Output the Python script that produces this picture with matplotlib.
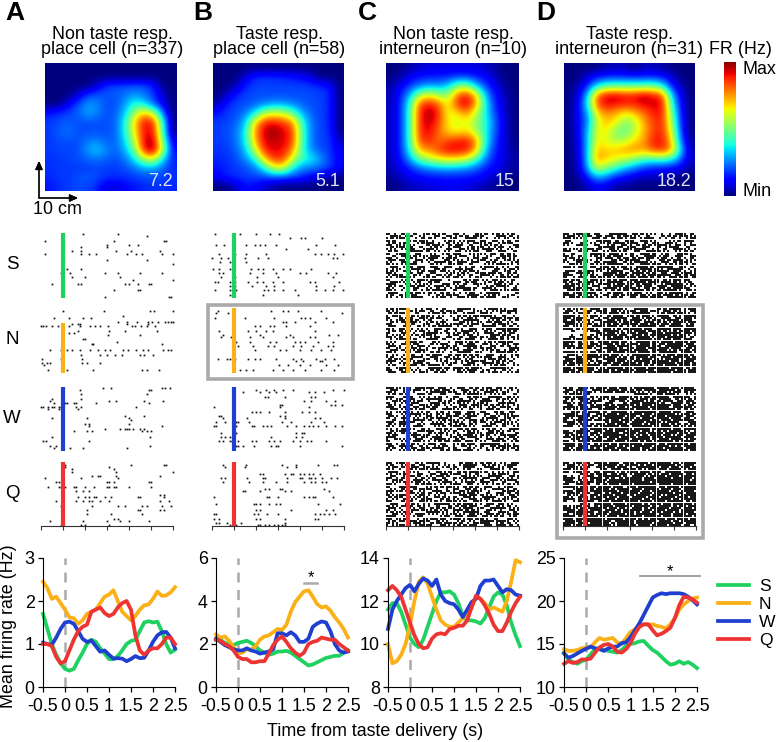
import matplotlib
matplotlib.use("Agg")
import matplotlib.pyplot as plt
import numpy as np
from matplotlib.lines import Line2D
from matplotlib.patches import Rectangle

plt.rcParams['font.family'] = ['Liberation Sans', 'DejaVu Sans']

W, H = 777, 742
fig = plt.figure(figsize=(W / 100, H / 100), dpi=100)


def axPx(x0, y0, x1, y1):
    return fig.add_axes([x0 / W, 1 - y1 / H, (x1 - x0) / W, (y1 - y0) / H])


def figX(x):
    return x / W


def figY(y):
    return 1 - y / H


# firing maps, percent of max, read on a 14x14 grid
mapA = [[0] * 14, [0] * 14,
        [0, 0, 0, 0, 0, 8, 18, 20, 20, 21, 21, 16, 0, 0],
        [0, 0, 0, 8, 19, 21, 21, 21, 24, 28, 24, 18, 8, 0],
        [0, 0, 12, 20, 28, 26, 20, 20, 28, 40, 36, 22, 10, 0],
        [15, 18, 19, 22, 29, 26, 20, 22, 32, 55, 72, 60, 25, 0],
        [18, 20, 22, 20, 20, 20, 20, 22, 38, 68, 92, 88, 40, 0],
        [18, 22, 24, 20, 20, 20, 20, 22, 38, 65, 90, 90, 42, 0],
        [18, 20, 20, 20, 24, 26, 22, 22, 34, 58, 92, 96, 50, 8],
        [18, 19, 19, 20, 28, 33, 26, 22, 30, 48, 90, 99, 58, 12],
        [17, 18, 19, 20, 22, 24, 22, 20, 24, 35, 55, 62, 35, 15],
        [17, 18, 18, 18, 18, 19, 18, 18, 20, 24, 28, 28, 22, 16],
        [16, 18, 18, 20, 22, 20, 18, 17, 17, 18, 20, 20, 19, 17],
        [14, 17, 18, 20, 19, 16, 8, 8, 12, 14, 16, 17, 17, 16]]
mapB = [[0] * 14,
        [0, 0, 0, 8, 16, 17, 17, 16, 14, 12, 8, 0, 0, 0],
        [0, 0, 6, 16, 19, 19, 19, 19, 19, 19, 18, 16, 14, 0],
        [0, 6, 16, 19, 20, 20, 20, 20, 20, 20, 20, 19, 16, 0],
        [5, 16, 19, 20, 22, 25, 28, 28, 25, 22, 20, 19, 16, 0],
        [14, 18, 20, 25, 36, 58, 62, 60, 48, 30, 22, 19, 16, 0],
        [18, 19, 22, 32, 68, 88, 90, 85, 78, 42, 24, 19, 16, 0],
        [18, 20, 24, 38, 75, 94, 99, 92, 85, 45, 24, 19, 17, 0],
        [18, 19, 24, 36, 72, 92, 94, 92, 85, 45, 24, 19, 18, 6],
        [17, 18, 22, 32, 60, 88, 92, 90, 78, 42, 26, 20, 18, 9],
        [16, 17, 20, 26, 38, 70, 86, 85, 60, 42, 38, 28, 18, 11],
        [14, 16, 18, 20, 24, 36, 60, 62, 36, 26, 24, 22, 18, 11],
        [11, 16, 17, 18, 19, 19, 19, 18, 18, 16, 11, 7, 3, 0],
        [0, 0, 6, 14, 11, 6, 3, 0, 0, 0, 0, 0, 0, 0]]
mapC = [[0, 0, 3, 6, 8, 8, 8, 8, 8, 8, 6, 3, 0, 0],
        [0, 4, 10, 14, 15, 15, 16, 18, 18, 15, 12, 6, 0, 0],
        [3, 10, 18, 24, 28, 28, 32, 50, 52, 32, 18, 10, 3, 0],
        [5, 14, 30, 55, 65, 55, 52, 80, 90, 70, 30, 14, 5, 0],
        [5, 15, 40, 82, 90, 82, 62, 86, 95, 74, 36, 16, 6, 0],
        [6, 15, 42, 86, 98, 88, 62, 66, 76, 58, 36, 18, 7, 0],
        [6, 15, 42, 86, 95, 84, 66, 60, 64, 52, 40, 22, 8, 0],
        [6, 15, 42, 86, 92, 80, 68, 64, 68, 56, 38, 20, 8, 0],
        [6, 15, 42, 82, 88, 78, 84, 88, 90, 76, 38, 18, 8, 0],
        [6, 15, 38, 72, 76, 84, 92, 92, 90, 72, 32, 15, 8, 2],
        [5, 13, 28, 48, 56, 64, 66, 66, 60, 44, 24, 14, 8, 3],
        [4, 10, 15, 22, 26, 28, 30, 28, 26, 22, 15, 12, 6, 3],
        [2, 6, 10, 12, 13, 14, 14, 14, 14, 13, 10, 6, 3, 0],
        [0, 2, 5, 6, 8, 8, 10, 10, 8, 6, 3, 2, 0, 0]]
mapD = [[0, 0, 0, 0, 3, 5, 5, 0, 5, 5, 3, 0, 0, 0],
        [0, 0, 8, 14, 15, 16, 15, 14, 15, 15, 14, 8, 0, 0],
        [0, 5, 15, 34, 44, 46, 46, 46, 46, 48, 38, 15, 5, 0],
        [0, 8, 30, 80, 92, 94, 90, 90, 96, 90, 86, 32, 10, 0],
        [0, 10, 36, 82, 92, 90, 88, 88, 92, 92, 92, 42, 12, 0],
        [0, 12, 26, 66, 76, 72, 64, 70, 78, 88, 90, 50, 14, 0],
        [0, 12, 24, 60, 70, 66, 50, 56, 72, 84, 88, 56, 16, 0],
        [0, 10, 30, 64, 66, 50, 46, 58, 70, 84, 88, 62, 18, 0],
        [0, 8, 30, 66, 62, 56, 58, 66, 74, 88, 90, 70, 22, 2],
        [0, 8, 30, 72, 68, 70, 74, 78, 74, 84, 88, 76, 32, 4],
        [0, 6, 30, 76, 70, 64, 60, 52, 44, 42, 44, 38, 22, 6],
        [0, 5, 28, 60, 50, 42, 30, 25, 18, 15, 13, 12, 10, 3],
        [0, 3, 14, 28, 25, 14, 12, 8, 5, 5, 5, 3, 0, 0],
        [0, 0, 5, 10, 8, 3, 2, 0, 0, 0, 0, 0, 0, 0]]

# sparse rasters: (trial, spike times)
rasterAS = [(0, [0.45, 1.25]), (1, [1.9]), (3, [-0.4, 1.15, 2.3, 2.35]), (5, [1.0, 1.5, 1.7]), (6, [0.4, 1.0]),
            (8, [0.2, 0.4, 1.2, 1.55, 2.2]), (9, [-0.4, 0.4, 0.6, 0.75, 1.45, 1.65, 1.8, 2.25, 2.5]), (12, [1.0, 1.9]),
            (14, [2.5]), (16, [0.1, 0.4]), (18, [-0.05, 0.15, 0.95, 1.25, 1.75, 2.25]), (20, [0.2, 0.5, 1.3]),
            (21, [1.6, 2.5]), (23, [-0.25, 0.35, 0.4, 1.4, 1.5, 1.7, 1.95, 2.0]), (26, [1.15, 1.7, 1.75]),
            (29, [0.95, 2.4, 2.45])]
rasterAN = [(1, [0.0, 0.94, 1.98, 2.07, 2.5]), (3, [1.36]), (4, [-0.2, 0.14, 0.45, 0.64]),
            (6, [1.26, 1.45, 1.69, 1.94, 2.02, 2.17, 2.32, 2.39, 2.45, 2.5]), (7, [0.2, 0.33, 0.39, 1.45, 1.94]),
            (8, [-0.5, -0.45, -0.39, -0.26, -0.11, 0.14, 0.39, 0.61, 0.73, 0.84, 1.03, 1.56, 1.63, 1.78, 1.9, 2.1]),
            (10, [0.33, 1.05, 1.4, 2.13]), (11, [0.14, 0.26]), (12, [1.03, 1.75]), (14, [0.45, 0.5]), (15, [1.23]),
            (16, [0.65, 0.69, 2.26]),
            (19, [-0.3, -0.05, 0.08, 0.2, 0.39, 0.61, 0.8, 0.95, 1.06, 1.36, 1.48, 1.67, 1.82, 1.94, 2.27, 2.38, 2.45]),
            (21, [0.42, 0.84, 0.99, 1.18, 1.33, 1.74, 1.85, 2.05]), (23, [-0.48, -0.05, 0.44]),
            (25, [-0.48, -0.37, -0.29, 0.44, 0.55, 0.84]), (26, [-0.44]), (28, [-0.35, 0.08, 0.69, 1.8, 1.92, 2.18])]
rasterAW = [(0, [0.92, 1.08, 2.24, 2.32, 2.43]), (1, [0.39, 1.95, 2.0]), (3, [0.4, 1.9]), (5, [-0.25, 0.4]),
            (6, [-0.3, 1.05, 1.2, 1.85, 2.28]), (7, [-0.2, 0.05, 0.1, 0.25, 0.3, 0.75, 1.95]),
            (9, [-0.5, -0.45, -0.35, -0.25, -0.2, -0.1, -0.05, 0.3, 0.4, 1.65]), (10, [-0.35, -0.1, 0.35]),
            (13, [1.4, 1.85]), (14, [-0.25, 0.55, 1.5]), (15, [1.55]), (17, [0.5, 0.6, 1.5]), (18, [0.6, 2.25]),
            (19, [0.95, 1.3, 1.4, 1.45, 1.5, 1.6, 1.75, 1.85]), (20, [0.25, 0.55, 0.65, 1.8, 1.9, 2.0]),
            (23, [-0.25, 1.98]), (25, [-0.45, -0.38, 0.6]), (27, [-0.3, -0.15, 1.98]),
            (28, [-0.2, 0.0, 0.15, 0.45, 1.45])]
rasterAQ = [(1, [0.05, 1.55, 2.3, 2.35]), (2, [0.05, 1.05]), (3, [0.2, 1.15]), (4, [0.2, 1.2, 2.5]),
            (6, [0.65, 0.8, 0.85, 1.2, 2.2]), (7, [-0.4, 0.4, 1.25]), (9, [-0.15, -0.1, 1.0, 1.05, 1.15, 1.95, 2.0]),
            (11, [-0.35, -0.1, -0.05, 0.05, 0.25, 0.3, 0.5, 0.7, 1.0, 1.05, 1.15, 1.2, 1.5, 2.0]), (13, [0.3, 0.45, 0.6]),
            (15, [2.2, 2.3]), (16, [0.35, 0.5, 0.6, 0.7, 0.75, 0.95, 1.1, 1.7, 1.75, 2.3]),
            (18, [-0.15, 0.3, 0.45, 0.6, 0.65, 0.85, 1.05, 2.2, 2.4]), (20, [-0.05, 0.65, 1.25, 1.4, 1.8, 1.9, 2.25, 2.45]),
            (22, [0.55, 1.7, 1.75, 2.2, 2.3]), (24, [0.55, 1.1, 1.8]), (26, [1.15, 1.25]),
            (27, [-0.3, 0.0, 0.45, 1.0, 1.3, 1.5, 1.95]), (29, [-0.05, 0.4, 0.5, 1.05])]
rasterBS = [(0, [-0.44, 0.13, 0.49, 0.82, 1.02]), (2, [1.27, 1.53, 1.61, 2.0]),
            (5, [-0.4, -0.23, 0.0, 0.28, 0.47, 0.58, 0.7, 0.96, 1.87, 2.3]), (7, [1.19, 1.68]),
            (9, [-0.33, 0.02, 0.27, 0.73, 1.83, 1.98, 2.13, 2.28, 2.48]),
            (11, [-0.5, -0.29, -0.14, 0.24, 0.55, 0.77, 2.25, 2.33]), (13, [-0.31, -0.1, 0.27]),
            (16, [-0.48, -0.33, -0.1, 0.39, 0.55, 0.66, 0.89, 1.11, 1.27, 1.76]),
            (18, [-0.33, -0.25, 0.0, 0.36, 0.66, 0.96, 1.49, 1.64, 2.13, 2.32]), (20, [-0.29, 0.02, 0.52, 1.0, 2.25]),
            (22, [-0.44, -0.37, -0.1, 0.02, 0.32, 0.52, 0.66, 0.89, 1.11, 1.72, 1.83, 2.38]),
            (24, [-0.1, 0.02, 0.4, 0.73, 0.92, 1.87, 2.28]),
            (26, [-0.44, -0.1, 0.05, 0.69, 0.77, 0.92, 1.11, 1.38, 1.87, 2.06, 2.25, 2.48]), (28, [-0.1, 0.66, 1.46])]
rasterBN = [(1, [-0.36, 0.83, 1.11, 1.23, 1.45, 1.98]), (2, [-0.4, -0.14, 2.46]), (4, [-0.44, 0.24, 0.92, 1.53, 1.61, 1.72, 2.1]),
            (6, [1.11, 1.19, 1.38, 1.83, 2.25]), (8, [0.47, 0.58, 0.81, 0.92, 1.19, 1.72]),
            (10, [-0.33, 0.32, 0.51, 0.73, 0.89, 1.83]), (12, [-0.25, 0.58, 1.27, 2.17, 2.36]),
            (13, [-0.29, -0.06, 0.36, 0.66, 1.19, 1.34, 1.72, 1.83]), (15, [0.05, 0.36, 0.81, 0.96, 1.38, 1.49, 1.61, 1.91, 2.25]),
            (17, [0.09, 0.43, 0.77, 0.92, 1.34, 1.53, 1.8, 2.13, 2.25]), (19, [0.47, 1.05, 1.19, 1.49, 1.76, 1.98, 2.21]),
            (23, [-0.36, -0.17, -0.1, 0.02, 0.32, 0.47, 0.58, 0.96, 1.34, 1.53, 1.87, 2.06, 2.28]), (24, [1.42, 1.57, 1.95, 2.0]),
            (26, [1.02, 1.23, 1.49, 1.72, 2.1, 2.36]), (28, [0.13, 0.28, 0.43, 0.89, 1.11, 1.34, 1.61, 1.98, 2.28])]
rasterBW = [(1, [0.5, 0.73, 0.92, 1.11, 1.34, 2.25, 2.5]), (2, [0.2, 0.6, 0.8, 0.95, 1.7, 1.85, 2.05]), (4, [0.7, 0.78, 1.15, 1.75, 1.85]),
            (6, [1.6, 1.75, 2.1, 2.3]), (8, [1.05, 1.1, 2.2, 2.3, 2.45]), (9, [-0.45, 1.05, 1.7]),
            (11, [0.4, 0.5, 0.6, 0.8, 1.15, 1.55, 1.7, 1.85]), (13, [-0.35, -0.3, 1.05, 1.15]), (14, [-0.25, 0.3, 1.15, 1.85, 1.95]),
            (16, [-0.4, -0.2, 0.05, 0.1, 0.35, 1.1, 1.3, 1.75, 2.05]),
            (18, [-0.45, -0.4, 0.05, 0.4, 0.45, 0.65, 0.75, 0.85, 1.2, 1.4, 1.6, 1.7, 1.8, 1.9, 2.1, 2.3, 2.45]),
            (21, [-0.3, 0.05, 1.4, 1.55, 1.6]), (23, [-0.3, -0.2, -0.1, 0.0, 0.85, 1.4, 1.55]),
            (25, [-0.35, -0.25, -0.1, -0.05, 0.1, 0.4, 0.5, 0.8, 0.9, 1.05, 1.35, 1.5, 1.65, 1.75, 2.1]),
            (27, [0.05, 0.1, 0.2, 0.45, 0.85, 0.95, 1.0, 1.5, 2.45])]
rasterBQ = [(1, [-0.25, 0.28, 1.1, 1.4, 1.9, 2.28, 2.33]), (2, [-0.2, 0.25, 1.2, 1.4]),
            (5, [0.6, 0.65, 1.15, 1.3, 1.35, 1.5, 1.6, 1.7, 1.8, 1.95]),
            (7, [-0.3, -0.2, 0.3, 0.65, 0.7, 1.2, 1.5, 1.55, 1.7, 1.75, 1.85, 2.0, 2.2, 2.35]),
            (9, [-0.25, 0.35, 0.65, 0.95, 1.2, 1.6, 1.75, 1.85, 2.0, 2.1]), (12, [0.7, 0.8, 1.05, 1.1, 2.05]),
            (13, [0.2, 0.25, 0.6, 1.15, 1.3, 2.15]), (16, [-0.45, 0.75, 0.8, 1.0, 1.6, 1.7, 1.8, 1.85, 2.25]),
            (19, [-0.4, 0.45, 0.5, 0.6, 0.8, 0.95, 1.05, 1.9, 2.4]), (22, [0.5, 0.6, 1.3, 2.1, 2.25]),
            (24, [-0.45, -0.4, 0.45, 0.55, 0.75, 1.0, 1.85, 1.95, 2.05, 2.15, 2.3]), (26, [-0.45, -0.35, 0.5, 0.6, 1.15, 1.85, 1.9]),
            (28, [-0.4, -0.35, -0.15, 0.15, 1.15]), (29, [-0.1, 0.05, 0.55, 0.6, 0.7, 0.8, 0.9, 1.0, 1.1, 1.15])]

# dense rasters: one hex row per trial, 64 time bins from -0.5 to 2.5 s
rasterCS = """c9a6 3b58 e41d 96ac
3e58 a1c7 5b3e 07d9
b7a2 6d19 c3f4 8a65
d836 f20b 95e7 1cb3
5ac1 7e46 a93d 62f8
e694 1bd3 78c5 ad07
37b8 c5a2 f16e 4b93
a95c 3e87 1d6b f528
6c1f d94a 72b8 e3c6
c7e3 8516 f0ad 39b4
19d6 b7c3 5e28 a1f6
e45a 2f97 c13b 86d4
7b83 d60e a94f 2c75
a1c6 49fb 3e78 d90b
d57e 06a3 b8c1 57e9
3cb9 e78f 1265 f4a3
962f a1d8 7bc3 0e5d
b4d1 6f3a 96e8 1c72
e839 c705 ad1f 7b36
5f26 98eb 34c7 d1a9
a7d4 3b16 e89c 25f7
c169 f7e2 06ba 9d4c
3ea5 8dc0 f371 6ba8
f872 b41e a63d 0f59
6b3d e9f6 5c08 b7e2
d0a7 14c9 7fb3 e846
e926 5bf8 c7a1 3d6f
7c5b ad36 92e4 fe03
b36e 08d7 e1f9 5a2c
a54f c2b9 3d76 f8e1""".split("\n")
rasterCN = """b7e2 5c98 3fa1 7d46
d41a e637 b82c 95fe
6f83 0bd9 c5e7 a132
9e2d 7a51 36bf e8c4
c358 f6e0 a9d1 3f7b
a79b 2c14 e7f8 56d3
35fe 96b8 1d4c ef28
e06c 38d5 f97a 1be6
78d1 ab7f 26c3 f8d9
d3a9 51e6 c8f2 e7ff
5b72 e98c 4fd1 a8f6
c1e4 3fa6 b729 f35c
96ab 7d02 e5c8 3ef1
eb30 a5c7 18f6 b9ad
27d6 1f98 b3e4 7da5
a85e c342 7ad9 6bf8
d1f7 06bc 59e3 a4e7
7a29 e816 c7f4 39b2
c64e 937d a1b6 e81f
3db5 f048 e7c2 b65d
e873 a6d1 3f9c 27fa
94ac 5be3 76d8 f14b
b12f c78e a56d e3c9
6ed8 39a5 f2c1 7b64
f935 e0ac 4b7f 16d8
a2c7 d815 c9e3 f6a4
58be 6fd3 07a9 2dc5
c7f1 0fee fb7c 3fe8
e36a 96d4 b5f2 c8d1
79c4 f1b8 3ae6 5d2b""".split("\n")
rasterCW = """f6b3 fe79 3cda e75a
3c97 a5de 8f36 bd29
e8a4 17fb c6a9 f4e1
5b61 ec38 75fd 2ac6
f0d8 a964 e1bc 7f35
a73c 5fe1 98d3 c6ea
1ed5 c86b 3fa7 e492
c94f 07da b52e 83fc
6a38 f5c9 1e7d b6a5
f2e7 3b84 d6ac 59f1
3d5a e71f a8c4 f62b
a6c9 58b2 f1e7 0d9c
e17f b4d6 73a9 c5e8
74b2 9ca7 e5f1 3a6f
c9e5 36fd 1b82 fc74
18a7 ec5b a4f6 95d1
f3dc 42a9 e8b7 2f6a
6be1 a7f3 5cd0 b8e9
d287 c159 f6a3 e4c5
a5f4 68ed 3b72 d91f
37c1 fe2a c5a8 76b4
e9b6 0d74 a1ec f583
5c2f b8a5 37d6 c9fe
f806 73e1 d9f4 a25d
8eb3 c5fa 6c18 f7a6
c147 a96e f3d5 1ecb
e5ad 2f38 ade7 fe64
73f8 d15c 8e96 3bf7
d96e 7bf2 c1a4 96ed
a2b5 e436 f7c8 d1a3""".split("\n")
rasterCQ = """e7a3 5fc8 1bd6 e94f
b16c e24a 97f3 5a7e
5d8f 3a96 c7e1 f2b8
d23a f7c1 a58c 3e96
7c95 08eb 36fd 92a7
a6e1 c73d f298 5be4
38bd 94f6 0eac 7f1d
e5a2 6b18 d7f3 c6a9
9f07 d3ec 8a56 3d7e
16cb a85f 4be7 d0c3
e843 7d29 f1ca 96b5
c3fe 15b7 a6d9 e278
29a6 fc84 e3b5 1fa6
f758 a3e6 9d7c 40fd
a01d 6cb9 f5e8 c7b3
d7c2 e948 1ef6 a59d
6f35 b1da c7a3 f86e
94ea 7c36 a8f5 d2e9
e1b8 f5a7 d63c 9f47
3c6d 29fe b7d4 f3a8
d5f9 a8c3 6ef1 c6b2
7a14 e6db 97ce 3fd5
c92f 75ac fb68 e91d
b6e8 1fd4 a7f9 c3e6
1d73 ea95 d4ec f6b7
f8a5 c02e 79f3 ad96
e6c1 37b9 f5de 8c3a
5b9e f8d4 2ca7 f7e5
d417 a6ef d93f c5b2
97b2 fc3a b6f1 e7d9""".split("\n")
rasterDS = """e7f9 c3fe 76a9 13e6
bd5c ef37 a8c1 b6f5
f6a3 d9ba e5f2 4c97
7010 fe63 c7a8 15be
e8c5 36fd f19c 7a24
a3f1 c58e 9b6f d3a7
0000 7fb9 e3c6 5f18
d69e e3a7 bf14 c7e9
f1b3 95d6 38fe a2b6
8c07 f3ea c7d9 61f4
e9a5 b6f8 d1fa e3c7
5d60 ef37 6ef5 c9a6
c7f4 a1db f8c3 b7d5
a391 dfc6 bfa9 e6f4
1e86 b7f9 c7de 5ad3
f5c7 3dae 9fb7 f8e6
0000 f6c7 b7ed 3fc9
7d9e a5f8 db6f e7a5
e3fa 1fdb 7ed9 cf7d
f8b6 9f7e db7f f3b7
c5e7 76bd efb6 9ef3
ef37 b6de f7ec d7b8
d9be a7f9 bf7d f6ac
6f7a 7ebd dbe9 7fd6
fd53 c6fb 9de7 cfe5
f7bc 5fd7 e9db b7f8
3f76 e9b7 7ed6 fe9d
e7bf 26f9 bca7 5fd3
fdb5 9ced f75e fb76
9f7e a5d8 e7bf 3fef""".split("\n")
rasterDN = """b6e7 d9fa 3f86 dfaf
7a3c f9d5 e7bc f6a7
e5f9 3bed 7fc5 bde9
fd37 a6f9 dbd7 e6bf
f7e6 5dfe 7ae9 f3bd
cfb9 e7b6 fd5e bf7c
fd6a 3fd7 b9f6 d7ef
7e9d b6ef f7bd ef96
e6b3 f7d9 6ffb 9fde
fb7e 9eb7 fde7 f7bf
0c37 dfe9 bf7e d6fb
0000 f7ad ef9f 7fbd
08e6 bfde 7dbf f6e9
1c7d 96fb efd7 bfe6
f7de d7f9 bfee f7bc
fdb6 7dee 9fdd fbf7
e9f7 bf6d f7db bfde
fdbe e7bf 9fde 7fef
b7fd 3fd9 df7b ef9d
0000 e7df bf9f d6fb
fef7 76fd efdb fe7d
3e7f bde9 7fde bdf6
e3bf f7d6 dfb9 f7fb
7fdc 9fbe dbed 7f5f
fbf6 e7bd bfdf ef7e
dfe9 7ef7 eddf fdfb
bd7f d9ef fdb7 7efb
f7de b7fb bf7f efdb
fdfe 7dbf dff7 fdef
ef7d fdf7 bf7f f7ef""".split("\n")
rasterDW = """d9f6 fbde bff7 ef7e
7be3 f7ee ddfb fdbf
e69d 3f7d ea5f d7b6
5fb8 0000 3fa7 7d15
f7e6 bd9f b5df e7f9
6dfa 75fe d7bb f36d
c8f7 e39d 7eb6 f9de
f5bd 0f06 fbfd 8fdb
39e6 fdbf dbef f7ae
fef7 efdd 7fbf e7fd
b6dc 7fbf dfdf fdb6
0f6f d9fe bffb f79e
fe58 f7df fdef fd7b
7fdb bffd e7df bfde
e9f6 6ffb dbf7 efb9
c7fd fdef bfdd f7fe
fdb0 0dfb 7efe bf0f
3ef6 f7be fdbd edb7
f97d bfef 7fed f76d
00d7 fb7f bfdf f7bf
e7f9 ef7d fbd6 dfe9
fbf7 bfe7 ef7f 7ef7
6eb6 dffd dbbe f5df
f7d9 7bef efdf 7fbe
0f7e e7bf 7fdb efd7
e5fb ff7d f6ef fb7e
fdb9 bddf fdfb bff7
7dd7 f7db bfef edbf
ebf6 dfbe fbdf 7fdf
f79f fdef fb7f dff7""".split("\n")
rasterDQ = """e7b9 fbe7 dfbf f77f
bd6e 7fdb f6ef fdbe
3e98 f7be 9ffd ef7b
f6d0 39f7 ed7b dfaf
e7b9 dfad f7de 7fbf
00f6 f9de bf6d efdd
c93e 7ff6 7ebf bf7f
fd67 ed9b fdf7 f7fd
f9b6 fbff fdff fffb
7ede f7ff ffdf ffff
e3f8 dbef bffb f7ef
fef7 7ef9 effb bf7f
07d6 fdbf 7dfd f7bf
fbf7 ffdf fbdf ef7e
bf59 edf7 f7ef fbdf
36e7 bf7e dfde bf7f
e9d6 fbdf 7f7d fdf7
fdb7 efbf fddf f77f
c5fe 7dfb f7ef bfdb
00e9 fefd fdbe f7fd
d7b9 bf7f bfdb f6ef
f6ef fbdd 7dbf efbd
fdf7 efb7 fdef bf7f
3fde 7df7 dbde fb7e
e7f6 fbfd dffb f7ef
fdbf b7df fdfe f7fd
fbdf f7fb edbf bdf7
7fbf fe7f dffb f77f
fdf7 fdbf dfef fbdf
f7bf febf efdf dfb9""".split("\n")

# mean firing rate, one value each 0.1 s
timeAxis = [-0.5, -0.4, -0.3, -0.2, -0.1, 0.0, 0.1, 0.2, 0.3, 0.4, 0.5, 0.6, 0.7, 0.8, 0.9, 1.0,
            1.1, 1.2, 1.3, 1.4, 1.5, 1.6, 1.7, 1.8, 1.9, 2.0, 2.1, 2.2, 2.3, 2.4, 2.5]
rateAS = [1.7, 1.35, 1.0, 0.75, 0.55, 0.42, 0.38, 0.42, 0.62, 0.8, 1.0, 1.1, 1.05, 0.9, 0.78, 0.65,
          0.65, 0.72, 0.85, 1.0, 1.07, 1.1, 1.3, 1.5, 1.53, 1.5, 1.52, 1.3, 1.0, 0.8, 0.87]
rateAN = [2.45, 2.3, 2.05, 2.1, 1.95, 1.8, 1.62, 1.6, 1.47, 1.55, 1.7, 1.75, 1.8, 1.95, 2.1, 2.15,
          2.25, 2.0, 1.75, 1.65, 1.55, 1.65, 1.8, 1.9, 1.92, 2.05, 2.22, 2.12, 2.13, 2.2, 2.32]
rateAW = [1.03, 1.0, 0.98, 1.15, 1.35, 1.5, 1.52, 1.47, 1.3, 1.12, 1.05, 1.08, 0.95, 0.82, 0.85, 0.75,
          0.66, 0.67, 0.66, 0.6, 0.65, 0.72, 0.67, 0.68, 0.85, 1.05, 1.2, 1.27, 1.28, 1.15, 0.9]
rateAQ = [1.0, 1.0, 0.95, 0.7, 0.55, 0.6, 0.85, 1.1, 1.3, 1.4, 1.45, 1.75, 1.8, 1.85, 1.72, 1.65,
          1.7, 1.85, 1.95, 2.0, 1.8, 1.2, 0.85, 0.75, 0.85, 0.9, 0.9, 1.0, 1.15, 1.15, 1.0]
rateBS = [2.2, 2.2, 2.05, 2.0, 1.95, 2.05, 2.1, 2.15, 2.05, 1.9, 1.7, 1.6, 1.5, 1.55, 1.65, 1.65,
          1.68, 1.6, 1.45, 1.3, 1.15, 1.0, 1.05, 1.15, 1.25, 1.35, 1.4, 1.45, 1.45, 1.6, 1.7]
rateBN = [2.45, 2.3, 2.35, 2.15, 1.85, 1.55, 1.6, 1.75, 1.75, 1.9, 2.2, 2.35, 2.4, 2.55, 2.7, 2.65,
          2.9, 3.5, 3.95, 4.2, 4.45, 4.5, 4.2, 3.85, 3.7, 3.75, 3.55, 3.25, 3.0, 2.7, 2.3]
rateBW = [2.25, 2.1, 1.95, 1.85, 1.75, 1.7, 1.7, 1.8, 1.7, 1.65, 1.55, 1.6, 1.65, 1.75, 2.5, 2.5,
          2.4, 2.55, 2.4, 2.1, 2.1, 2.25, 2.8, 2.95, 3.05, 3.0, 2.6, 2.0, 1.7, 1.6, 1.65]
rateBQ = [2.2, 2.15, 2.0, 1.9, 1.7, 1.4, 1.3, 1.3, 1.15, 1.15, 1.2, 1.2, 1.55, 1.95, 2.2, 2.35,
          2.1, 1.8, 1.6, 1.45, 1.6, 2.0, 2.1, 2.15, 2.3, 2.25, 2.2, 2.2, 2.0, 1.85, 1.7]
rateCS = [11.6, 11.9, 11.9, 11.5, 10.9, 10.3, 10.0, 9.85, 10.2, 10.8, 11.4, 12.0, 12.4, 12.4, 12.45, 12.3,
          11.9, 11.3, 11.1, 11.1, 11.05, 10.95, 11.2, 11.7, 12.2, 12.4, 12.3, 11.8, 11.0, 10.4, 9.9]
rateCN = [10.0, 9.1, 9.2, 9.5, 10.0, 10.9, 12.0, 12.9, 13.1, 12.8, 12.2, 11.6, 11.1, 10.9, 10.8, 10.8,
          11.0, 11.2, 11.3, 11.7, 12.2, 12.1, 11.9, 11.6, 11.7, 11.6, 11.5, 12.0, 12.9, 13.9, 13.8]
rateCW = [10.7, 11.6, 12.0, 12.3, 12.6, 12.75, 12.45, 12.8, 13.05, 12.95, 12.7, 13.0, 12.3, 12.0, 11.9, 11.85,
          11.6, 11.25, 11.6, 11.95, 12.1, 12.7, 12.95, 12.95, 13.0, 12.7, 12.4, 12.55, 12.5, 12.3, 12.25]
rateCQ = [12.5, 12.7, 12.5, 12.2, 11.6, 11.0, 10.4, 10.0, 9.8, 9.85, 10.25, 10.45, 10.5, 10.45, 10.7, 10.75,
          10.85, 10.85, 11.1, 11.7, 12.25, 12.1, 11.8, 11.4, 10.9, 10.6, 10.6, 11.0, 11.5, 11.9, 12.2]
rateDS = [14.0, 13.2, 12.9, 12.7, 13.0, 13.2, 13.8, 14.4, 14.5, 14.3, 14.2, 14.1, 14.0, 14.3, 14.8, 15.0,
          15.1, 15.3, 15.35, 14.8, 14.3, 14.0, 13.5, 13.0, 12.6, 12.7, 13.0, 12.7, 12.9, 12.6, 12.2]
rateDN = [14.4, 14.2, 14.2, 14.3, 14.5, 14.6, 14.6, 15.2, 15.7, 15.5, 15.6, 15.7, 15.2, 15.0, 15.7, 16.4,
          16.7, 17.0, 17.3, 17.2, 17.3, 17.1, 17.0, 16.8, 17.3, 18.0, 19.0, 19.6, 20.0, 20.3, 20.4]
rateDW = [13.9, 13.4, 13.6, 13.9, 14.2, 14.45, 14.7, 14.5, 14.4, 14.2, 14.5, 14.7, 14.7, 15.1, 15.2, 15.8,
          16.6, 17.4, 18.4, 19.4, 20.4, 20.7, 20.9, 20.8, 20.9, 20.9, 20.9, 20.8, 20.5, 20.1, 19.6]
rateDQ = [12.7, 13.0, 12.8, 12.9, 13.2, 13.2, 13.3, 14.0, 14.6, 14.9, 15.0, 14.7, 14.1, 14.0, 14.4, 15.1,
          16.2, 17.0, 17.3, 17.3, 16.6, 16.0, 16.2, 16.5, 16.9, 18.0, 19.5, 20.5, 20.4, 20.2, 19.8]

tastes = ['S', 'N', 'W', 'Q']
tasteColors = ['#1fd161', '#fbb017', '#1f3fd0', '#ee3333']
xTicks = [-0.5, 0, 0.5, 1, 1.5, 2, 2.5]
xTickLabels = ['-0.5', '0', '0.5', '1', '1.5', '2', '2.5']

titles = ['Non taste resp.\nplace cell (n=337)', 'Taste resp.\nplace cell (n=58)',
          'Non taste resp.\ninterneuron (n=10)', 'Taste resp.\ninterneuron (n=31)']
panelLetters = ['A', 'B', 'C', 'D']
peakLabels = ['7.2', '5.1', '15', '18.2']
fiMaps = [mapA, mapB, mapC, mapD]
rasters = [[rasterAS, rasterAN, rasterAW, rasterAQ], [rasterBS, rasterBN, rasterBW, rasterBQ],
           [rasterCS, rasterCN, rasterCW, rasterCQ], [rasterDS, rasterDN, rasterDW, rasterDQ]]
rates = [[rateAS, rateAN, rateAW, rateAQ], [rateBS, rateBN, rateBW, rateBQ],
         [rateCS, rateCN, rateCW, rateCQ], [rateDS, rateDN, rateDW, rateDQ]]
yLims = [(0, 3), (0, 6), (8, 14), (10, 25)]
yTicks = [[0, 1, 2, 3], [0, 2, 4, 6], [8, 10, 12, 14], [10, 15, 20, 25]]

# layout in pixels
mapX = [(45, 177), (213, 344), (386, 518), (564, 695)]
rasterX = [(41, 173), (212, 344), (386, 519), (563, 696)]
lineX = [(43, 175), (216, 348), (388, 520), (564, 697)]
rasterY = [(233, 298), (308, 373), (387, 451), (462, 526)]
letterX = [5, 193, 358, 536]
titleX = [112, 279, 453, 629]
textSize = 12.9

for i in range(4):
    fig.text(figX(letterX[i]), figY(13), panelLetters[i], fontsize=19, fontweight='bold', ha='left', va='center')
    fig.text(figX(titleX[i]), figY(42), titles[i], fontsize=textSize, ha='center', va='center', linespacing=0.92)

    ax = axPx(mapX[i][0], 63, mapX[i][1], 191)
    ax.imshow(np.array(fiMaps[i]) / 100, cmap='jet', vmin=0, vmax=1, aspect='auto', interpolation='bicubic')
    ax.axis('off')
    ax.text(0.97, 0.01, peakLabels[i], transform=ax.transAxes, color='#dde4f5', fontsize=textSize, ha='right', va='bottom')

    for j in range(4):
        ax = axPx(rasterX[i][0], rasterY[j][0], rasterX[i][1], rasterY[j][1])
        ax.set_xlim(-0.5, 2.5)
        ax.set_ylim(30, 0)
        xs, ys = [], []
        if i < 2:
            for trial, times in rasters[i][j]:
                xs += times
                ys += [trial + 0.5] * len(times)
            ax.plot(xs, ys, ls='none', marker='s', ms=1.25, mew=0, color='#111111', clip_on=False)
        else:
            for trial, row in enumerate(rasters[i][j]):
                bits = bin(int(row.replace(' ', ''), 16))[2:].zfill(64)
                for k, b in enumerate(bits):
                    if b == '1':
                        xs.append(-0.5 + 3 * (k + 0.5) / 64)
                        ys.append(trial + 0.5)
            ax.plot(xs, ys, ls='none', marker='_', ms=1.7, mew=1.3, color='k', clip_on=False, snap=False)
        eventTop = 7 if (i == 0 and j == 1) else 0
        ax.plot([0, 0], [eventTop, 30], color=tasteColors[j], lw=3.0, solid_capstyle='butt', zorder=5)
        ax.patch.set_alpha(0)
        for s in ['top', 'left', 'right', 'bottom']:
            ax.spines[s].set_visible(False)
        ax.set_yticks([])
        if j == 3:
            ax.spines['bottom'].set_visible(True)
            ax.spines['bottom'].set_color('#333333')
            ax.set_xticks(xTicks)
            ax.set_xticklabels([])
            ax.tick_params(axis='x', length=3, width=0.8, color='#333333')
        else:
            ax.set_xticks([])

    ax = axPx(lineX[i][0], 558, lineX[i][1], 687)
    ax.plot([0, 0], yLims[i], color='#aaaaaa', lw=1.8, dashes=(4, 3), zorder=1)
    for j in range(4):
        ax.plot(timeAxis, rates[i][j], color=tasteColors[j], lw=2.7, solid_joinstyle='round', clip_on=False)
    ax.set_xlim(-0.5, 2.5)
    ax.set_ylim(yLims[i])
    ax.set_xticks(xTicks)
    ax.set_xticklabels(xTickLabels)
    ax.set_yticks(yTicks[i])
    ax.tick_params(labelsize=textSize, length=3.5, width=0.9)
    ax.tick_params(axis='x', pad=4.5)
    ax.tick_params(axis='y', pad=2.5)
    for s in ['top', 'right']:
        ax.spines[s].set_visible(False)
    if i == 0:
        ax.set_ylabel('Mean firing rate (Hz)', fontsize=textSize)
        ax.yaxis.set_label_coords(-0.2, 0.47)
    if i == 1:
        ax.plot([1.5, 1.8], [4.84, 4.84], color='#aaaaaa', lw=1.8, clip_on=False)
        ax.text(1.66, 4.75, '*', fontsize=12, ha='center', va='bottom')
    if i == 3:
        ax.plot([1.22, 2.57], [22.9, 22.9], color='#999999', lw=1.3, clip_on=False)
        ax.text(1.9, 22.5, '*', fontsize=12, ha='center', va='bottom')
        handles = [Line2D([], [], color=c, lw=2.7) for c in tasteColors]
        ax.legend(handles, tastes, loc='upper left', bbox_to_anchor=(718 / W, figY(579)),
                  bbox_transform=fig.transFigure, frameon=False, fontsize=12.6, handlelength=1.75,
                  handletextpad=0.6, labelspacing=0.155, borderaxespad=0, borderpad=0)

for j, label in enumerate(tastes):
    fig.text(figX(12), figY((rasterY[j][0] + rasterY[j][1]) / 2 - 1), label, fontsize=13.5, ha='center', va='center')

fig.text(figX(375), figY(731), 'Time from taste delivery (s)', fontsize=textSize, ha='center', va='center')

# colour scale
ax = axPx(724, 62, 736, 196)
ax.imshow(np.linspace(1, 0, 256).reshape(-1, 1), cmap='jet', aspect='auto')
ax.axis('off')
fig.text(figX(740), figY(50), 'FR (Hz)', fontsize=textSize, ha='center', va='center')
fig.text(figX(742), figY(70), 'Max', fontsize=textSize, ha='left', va='center')
fig.text(figX(742), figY(191), 'Min', fontsize=textSize, ha='left', va='center')

# scale arrows
arrow = dict(arrowstyle='-|>,head_width=0.22,head_length=0.5', color='k', lw=0.9, shrinkA=0, shrinkB=0)
fig.add_artist(plt.annotate('', xy=(figX(39), figY(161)), xytext=(figX(39), figY(198)),
                            xycoords='figure fraction', textcoords='figure fraction', arrowprops=arrow))
fig.add_artist(plt.annotate('', xy=(figX(78), figY(198)), xytext=(figX(39), figY(198)),
                            xycoords='figure fraction', textcoords='figure fraction', arrowprops=arrow))
fig.text(figX(57), figY(209), '10 cm', fontsize=textSize, ha='center', va='center')

# boxes around the responsive conditions
for x0, y0, x1, y1 in [(207.5, 304.5, 353, 379), (556.5, 304.5, 703, 538)]:
    fig.add_artist(Rectangle((figX(x0), figY(y1)), (x1 - x0) / W, (y1 - y0) / H, transform=fig.transFigure,
                             fill=False, edgecolor='#aaaaaa', lw=2.6))

fig.savefig('out.png', dpi=100)
